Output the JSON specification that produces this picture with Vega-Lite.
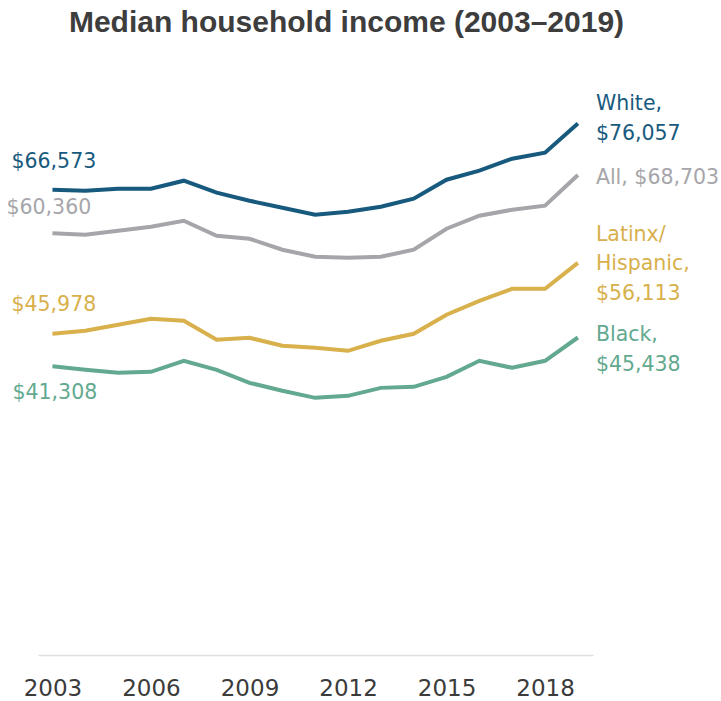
{
  "$schema": "https://vega.github.io/schema/vega-lite/v6.json",
  "autosize": "none",
  "width": 555,
  "height": 559,
  "padding": {"left": 38, "top": 96, "right": 128, "bottom": 46},
  "background": "white",
  "config": {"view": {"stroke": null}},
  "title": {
    "text": "Median household income (2003–2019)",
    "font": "Liberation Sans",
    "fontSize": 30,
    "fontWeight": "bold",
    "color": "#3d3d3d",
    "anchor": "middle",
    "baseline": "alphabetic",
    "offset": 32,
    "dx": 31
  },
  "datasets": {
    "series": [
      {"series": "White", "year": 2003, "value": 66573},
      {"series": "White", "year": 2004, "value": 66450},
      {"series": "White", "year": 2005, "value": 66730},
      {"series": "White", "year": 2006, "value": 66730},
      {"series": "White", "year": 2007, "value": 67880},
      {"series": "White", "year": 2008, "value": 66160},
      {"series": "White", "year": 2009, "value": 65010},
      {"series": "White", "year": 2010, "value": 64010},
      {"series": "White", "year": 2011, "value": 63010},
      {"series": "White", "year": 2012, "value": 63440},
      {"series": "White", "year": 2013, "value": 64150},
      {"series": "White", "year": 2014, "value": 65300},
      {"series": "White", "year": 2015, "value": 68020},
      {"series": "White", "year": 2016, "value": 69310},
      {"series": "White", "year": 2017, "value": 71030},
      {"series": "White", "year": 2018, "value": 71890},
      {"series": "White", "year": 2019, "value": 76057},
      {"series": "All", "year": 2003, "value": 60360},
      {"series": "All", "year": 2004, "value": 60140},
      {"series": "All", "year": 2005, "value": 60720},
      {"series": "All", "year": 2006, "value": 61290},
      {"series": "All", "year": 2007, "value": 62150},
      {"series": "All", "year": 2008, "value": 60000},
      {"series": "All", "year": 2009, "value": 59570},
      {"series": "All", "year": 2010, "value": 58000},
      {"series": "All", "year": 2011, "value": 56990},
      {"series": "All", "year": 2012, "value": 56850},
      {"series": "All", "year": 2013, "value": 56990},
      {"series": "All", "year": 2014, "value": 58000},
      {"series": "All", "year": 2015, "value": 61000},
      {"series": "All", "year": 2016, "value": 62870},
      {"series": "All", "year": 2017, "value": 63720},
      {"series": "All", "year": 2018, "value": 64300},
      {"series": "All", "year": 2019, "value": 68703},
      {"series": "Latinx/Hispanic", "year": 2003, "value": 45978},
      {"series": "Latinx/Hispanic", "year": 2004, "value": 46400},
      {"series": "Latinx/Hispanic", "year": 2005, "value": 47260},
      {"series": "Latinx/Hispanic", "year": 2006, "value": 48120},
      {"series": "Latinx/Hispanic", "year": 2007, "value": 47830},
      {"series": "Latinx/Hispanic", "year": 2008, "value": 45110},
      {"series": "Latinx/Hispanic", "year": 2009, "value": 45390},
      {"series": "Latinx/Hispanic", "year": 2010, "value": 44250},
      {"series": "Latinx/Hispanic", "year": 2011, "value": 43960},
      {"series": "Latinx/Hispanic", "year": 2012, "value": 43530},
      {"series": "Latinx/Hispanic", "year": 2013, "value": 44970},
      {"series": "Latinx/Hispanic", "year": 2014, "value": 45970},
      {"series": "Latinx/Hispanic", "year": 2015, "value": 48690},
      {"series": "Latinx/Hispanic", "year": 2016, "value": 50690},
      {"series": "Latinx/Hispanic", "year": 2017, "value": 52410},
      {"series": "Latinx/Hispanic", "year": 2018, "value": 52410},
      {"series": "Latinx/Hispanic", "year": 2019, "value": 56113},
      {"series": "Black", "year": 2003, "value": 41308},
      {"series": "Black", "year": 2004, "value": 40810},
      {"series": "Black", "year": 2005, "value": 40380},
      {"series": "Black", "year": 2006, "value": 40530},
      {"series": "Black", "year": 2007, "value": 42100},
      {"series": "Black", "year": 2008, "value": 40810},
      {"series": "Black", "year": 2009, "value": 38950},
      {"series": "Black", "year": 2010, "value": 37810},
      {"series": "Black", "year": 2011, "value": 36800},
      {"series": "Black", "year": 2012, "value": 37090},
      {"series": "Black", "year": 2013, "value": 38230},
      {"series": "Black", "year": 2014, "value": 38380},
      {"series": "Black", "year": 2015, "value": 39810},
      {"series": "Black", "year": 2016, "value": 42100},
      {"series": "Black", "year": 2017, "value": 41100},
      {"series": "Black", "year": 2018, "value": 42100},
      {"series": "Black", "year": 2019, "value": 45438}
    ],
    "labels": [
      {"key": "wl", "series": "White", "year": 2003, "value": 66573, "text": "$66,573"},
      {"key": "al", "series": "All", "year": 2003, "value": 60360, "text": "$60,360"},
      {"key": "ll", "series": "Latinx/Hispanic", "year": 2003, "value": 45978, "text": "$45,978"},
      {"key": "bl", "series": "Black", "year": 2003, "value": 41308, "text": "$41,308"},
      {"key": "wr", "series": "White", "year": 2019, "value": 76057, "text": "White,\n$76,057"},
      {"key": "ar", "series": "All", "year": 2019, "value": 68703, "text": "All, $68,703"},
      {"key": "lr", "series": "Latinx/Hispanic", "year": 2019, "value": 56113, "text": "Latinx/\nHispanic,\n$56,113"},
      {"key": "br", "series": "Black", "year": 2019, "value": 45438, "text": "Black,\n$45,438"}
    ]
  },
  "encoding": {
    "x": {
      "field": "year",
      "type": "quantitative",
      "scale": {"domain": [2002.56, 2019.46], "nice": false, "zero": false},
      "axis": {
        "title": null,
        "values": [2003, 2006, 2009, 2012, 2015, 2018],
        "format": "d",
        "grid": false,
        "ticks": false,
        "tickSize": 0,
        "domainColor": "#e0e0e0",
        "domainWidth": 1.5,
        "labelFont": "DejaVu Sans",
        "labelFontSize": 23,
        "labelColor": "#3b3b3b",
        "labelPadding": 22,
        "labelFlush": false
      }
    },
    "y": {
      "field": "value",
      "type": "quantitative",
      "scale": {"domain": [0, 80000], "nice": false},
      "axis": null
    },
    "color": {
      "field": "series",
      "type": "nominal",
      "scale": {
        "domain": ["White", "All", "Latinx/Hispanic", "Black"],
        "range": ["#175a7e", "#a6a6aa", "#d8b04c", "#63a98f"]
      },
      "legend": null
    }
  },
  "layer": [
    {
      "data": {"name": "series"},
      "mark": {"type": "line", "strokeWidth": 4, "interpolate": "linear"}
    },
    {
      "data": {"name": "labels"},
      "transform": [{"filter": "datum.key === 'wl'"}],
      "mark": {"type": "text", "align": "left", "baseline": "middle", "font": "DejaVu Sans", "fontSize": 20.5, "dx": -41, "dy": -28},
      "encoding": {"text": {"field": "text"}}
    },
    {
      "data": {"name": "labels"},
      "transform": [{"filter": "datum.key === 'al'"}],
      "mark": {"type": "text", "align": "left", "baseline": "middle", "font": "DejaVu Sans", "fontSize": 20.5, "dx": -46, "dy": -25},
      "encoding": {"text": {"field": "text"}}
    },
    {
      "data": {"name": "labels"},
      "transform": [{"filter": "datum.key === 'll'"}],
      "mark": {"type": "text", "align": "left", "baseline": "middle", "font": "DejaVu Sans", "fontSize": 20.5, "dx": -41, "dy": -29},
      "encoding": {"text": {"field": "text"}}
    },
    {
      "data": {"name": "labels"},
      "transform": [{"filter": "datum.key === 'bl'"}],
      "mark": {"type": "text", "align": "left", "baseline": "middle", "font": "DejaVu Sans", "fontSize": 20.5, "dx": -40, "dy": 27},
      "encoding": {"text": {"field": "text"}}
    },
    {
      "data": {"name": "labels"},
      "transform": [{"filter": "datum.key === 'wr'"}],
      "mark": {"type": "text", "align": "left", "baseline": "middle", "font": "DejaVu Sans", "fontSize": 20.5, "lineBreak": "\n", "lineHeight": 30, "dx": 18, "dy": -19.5},
      "encoding": {"text": {"field": "text"}}
    },
    {
      "data": {"name": "labels"},
      "transform": [{"filter": "datum.key === 'ar'"}],
      "mark": {"type": "text", "align": "left", "baseline": "middle", "font": "DejaVu Sans", "fontSize": 20.5, "dx": 18, "dy": 3},
      "encoding": {"text": {"field": "text"}}
    },
    {
      "data": {"name": "labels"},
      "transform": [{"filter": "datum.key === 'lr'"}],
      "mark": {"type": "text", "align": "left", "baseline": "middle", "font": "DejaVu Sans", "fontSize": 20.5, "lineBreak": "\n", "lineHeight": 29.5, "dx": 18, "dy": -28},
      "encoding": {"text": {"field": "text"}}
    },
    {
      "data": {"name": "labels"},
      "transform": [{"filter": "datum.key === 'br'"}],
      "mark": {"type": "text", "align": "left", "baseline": "middle", "font": "DejaVu Sans", "fontSize": 20.5, "lineBreak": "\n", "lineHeight": 30, "dx": 18, "dy": -3},
      "encoding": {"text": {"field": "text"}}
    }
  ]
}
